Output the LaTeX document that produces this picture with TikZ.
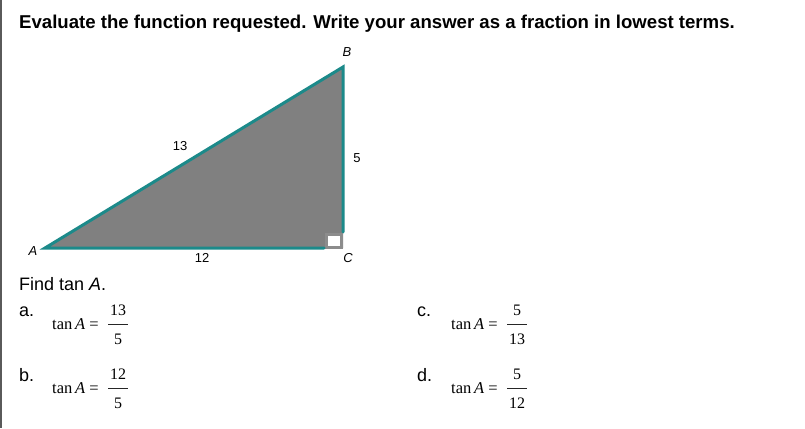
\documentclass[tikz,border=0pt]{standalone}
\usepackage{fontspec}
\setmainfont{Liberation Sans}
\newfontfamily\timesf{Liberation Serif}
\definecolor{teal1}{RGB}{28,138,138}
\definecolor{grayfill}{RGB}{128,128,128}
\definecolor{sqgray}{RGB}{140,140,140}
\definecolor{bordergray}{RGB}{90,90,90}
\begin{document}
\begin{tikzpicture}[x=1pt,y=-1pt,
  title/.style={anchor=base west,inner sep=0pt,font=\fontsize{18.6}{20}\selectfont\bfseries},
  body/.style={anchor=base west,inner sep=0pt,font=\fontsize{18}{20}\selectfont},
  lbl/.style={inner sep=0pt,font=\fontsize{13}{15}\selectfont},
  eqn/.style={anchor=base west,inner sep=0pt,font=\fontsize{16.5}{18}\selectfont\timesf},
  fnum/.style={anchor=base,inner sep=0pt,font=\fontsize{16}{18}\selectfont\timesf},
  fbar/.style={draw=black!85,line width=0.8pt},
  side/.style={draw=teal1,line width=3pt,line cap=round}]
\useasboundingbox (0,0) rectangle (805,428);
\fill[white] (0,0) rectangle (805,428);
\draw[bordergray,line width=2pt] (1,0) -- (1,428);
\node[title] (t) at (19,29) {Evaluate the function requested. Write your answer as a fraction in lowest terms.};
% triangle
\coordinate (A) at (45,248);
\coordinate (B) at (343,67);
\coordinate (C) at (343,248);
\fill[grayfill] (A) -- (B) -- (C) -- cycle;
\draw[sqgray,line width=3pt,fill=white] (326,234) rectangle (341,247);
\coordinate (Cb) at (324,248);
\coordinate (Cr) at (343,232);
\draw[side] (Cb) -- (A) -- (B) -- (Cr);
\node[lbl] (la) at (33,251) {\itshape A};
\node[lbl] (lb) at (347,52) {\itshape B};
\node[lbl] (lc) at (348,258) {\itshape C};
\node[lbl] (l13) at (180,146) {13};
\node[lbl] (l5) at (357,158) {5};
\node[lbl] (l12) at (202,258) {12};
% question
\node[body] (find) at (19,290) {Find tan \textit{A}.};
\node[body] (oa) at (19,316) {a.};
\node[body] (ob) at (19,381) {b.};
\node[body] (oc) at (417,316) {c.};
\node[body] (od) at (417,381) {d.};
% option a
\node[eqn] (ea) at (52,329) {tan\,\textit{A} =};
\node[fnum] (na) at (118,315) {13};
\node[fnum] (da) at (118,344) {5};
\draw[fbar] (108,324) -- (128,324);
% option b
\node[eqn] (eb) at (52,393) {tan\,\textit{A} =};
\node[fnum] (nb) at (118,379) {12};
\node[fnum] (db) at (118,408) {5};
\draw[fbar] (108,388) -- (128,388);
% option c
\node[eqn] (ec) at (451,329) {tan\,\textit{A} =};
\node[fnum] (nc) at (517,315) {5};
\node[fnum] (dc) at (517,344) {13};
\draw[fbar] (507,324) -- (527,324);
% option d
\node[eqn] (ed) at (451,393) {tan\,\textit{A} =};
\node[fnum] (nd) at (517,379) {5};
\node[fnum] (dd) at (517,408) {12};
\draw[fbar] (507,388) -- (527,388);
\end{tikzpicture}
\end{document}
